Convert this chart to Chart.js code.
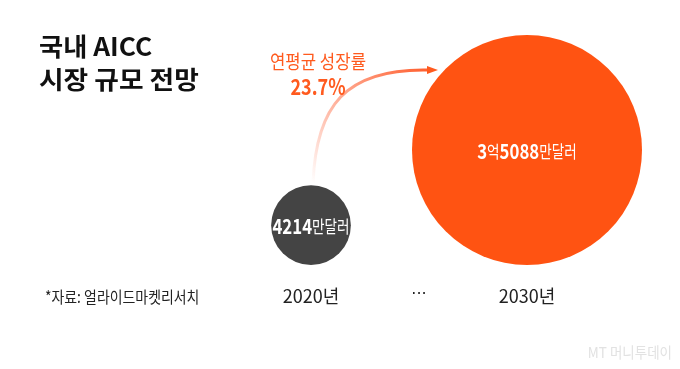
<!DOCTYPE html>
<html><head><meta charset="utf-8">
<script src="https://cdn.jsdelivr.net/npm/chart.js@4/dist/chart.umd.min.js"></script>
<style>html,body{margin:0;padding:0;background:#fff;overflow:hidden}#wrap{width:680px;height:369px;position:relative}</style>
</head><body><div id="wrap"><canvas id="c" width="680" height="369"></canvas></div>
<script>
// ---- data ----
const titleLines = ['국내 AICC', '시장 규모 전망'];
const tickLabels = ['2020년', '···', '2030년'];
const xPositions = [0, 2];
const marketValues = [4214, 35088]; // 만달러
const valueLabelParts = [
  [['4214', true], ['만달러', false]],
  [['3', true], ['억', false], ['5088', true], ['만달러', false]]
];
const growthLabel = '연평균 성장률';
const growthRate = '23.7%';
const sourceText = '*자료: 얼라이드마켓리서치';
const watermarkText = 'MT 머니투데이';

// ---- styles ----
const bubbleColors = ['#444444', '#FF5312'];
const orange = '#FF5A1E';
const FONT = '"Noto Sans CJK KR", "Noto Sans", sans-serif';
const MAX_R = 115;
const maxVal = Math.max(...marketValues);
const radii = marketValues.map(v => MAX_R * Math.sqrt(v / maxVal));

// keep the layout exactly as padded: bubbles are sized to fit inside the area
const BubbleCtl = Chart.registry.getController('bubble');
BubbleCtl.prototype.getMaxOverflow = function () { return 0; };

function drawScaledText(ctx, text, x, y, font, color, sx, align) {
  ctx.save();
  ctx.font = font;
  ctx.fillStyle = color;
  ctx.textBaseline = 'middle';
  const w = ctx.measureText(text).width * sx;
  let left = x;
  if (align === 'center') left = x - w / 2;
  else if (align === 'right') left = x - w;
  ctx.translate(left, y);
  ctx.scale(sx, 1);
  ctx.textAlign = 'left';
  ctx.fillText(text, 0, 0);
  ctx.restore();
}

function drawParts(ctx, parts, cx, cy, color, sx) {
  ctx.save();
  const fonts = parts.map(p => p[1] ? `bold 21px ${FONT}` : `17px ${FONT}`);
  let total = 0;
  const widths = parts.map((p, i) => { ctx.font = fonts[i]; const w = ctx.measureText(p[0]).width * sx; total += w; return w; });
  let x = cx - total / 2;
  parts.forEach((p, i) => {
    drawScaledText(ctx, p[0], x, cy + (p[1] ? 0 : 0.5), fonts[i], color, sx, 'left');
    x += widths[i];
  });
  ctx.restore();
}

const overlay = {
  id: 'overlay',
  afterDatasetsDraw(chart) {
    const ctx = chart.ctx;
    const meta = chart.getDatasetMeta(0);
    const pts = meta.data;
    pts.forEach((el, i) => {
      drawParts(ctx, valueLabelParts[i], el.x, el.y + 1, '#ffffff', 0.8);
    });
    // arrow from small bubble to large bubble
    const a = pts[0], b = pts[1];
    const p0 = {x: a.x + 2, y: a.y - radii[0] - 2};
    const p3 = {x: b.x - 92, y: b.y - 80};
    const c1 = {x: p0.x + 3, y: p0.y - 77};
    const c2 = {x: p0.x + 32, y: p3.y - 2};
    const g = ctx.createLinearGradient(p0.x, p0.y, p3.x, p3.y);
    g.addColorStop(0, 'rgba(255,100,60,0)');
    g.addColorStop(0.35, 'rgba(255,110,70,0.45)');
    g.addColorStop(1, 'rgba(255,90,40,1)');
    ctx.save();
    ctx.strokeStyle = g;
    ctx.lineWidth = 3;
    ctx.beginPath();
    ctx.moveTo(p0.x, p0.y);
    ctx.bezierCurveTo(c1.x, c1.y, c2.x, c2.y, p3.x - 6, p3.y);
    ctx.stroke();
    ctx.fillStyle = orange;
    ctx.beginPath();
    ctx.moveTo(p3.x + 3, p3.y);
    ctx.lineTo(p3.x - 8, p3.y - 4);
    ctx.lineTo(p3.x - 8, p3.y + 4);
    ctx.closePath();
    ctx.fill();
    ctx.restore();
    drawScaledText(ctx, growthLabel, 318, 62, `19px ${FONT}`, orange, 0.88, 'center');
    drawScaledText(ctx, growthRate, 318, 87, `bold 22px ${FONT}`, orange, 0.82, 'center');
  },
  afterDraw(chart) {
    const ctx = chart.ctx;
    drawScaledText(ctx, titleLines[0], 39, 46, `bold 25px ${FONT}`, '#111111', 1.05, 'left');
    drawScaledText(ctx, titleLines[1], 39, 79, `bold 25px ${FONT}`, '#111111', 1.07, 'left');
    drawScaledText(ctx, sourceText, 45, 297, `16px ${FONT}`, '#222222', 0.87, 'left');
    drawScaledText(ctx, watermarkText, 672, 352, `15px ${FONT}`, '#e2e2e2', 0.9, 'right');
  }
};

new Chart(document.getElementById('c'), {
  type: 'bubble',
  data: {
    datasets: [{
      data: marketValues.map((v, i) => ({x: xPositions[i], y: radii[i], r: radii[i]})),
      backgroundColor: bubbleColors,
      borderWidth: 0,
      hoverBorderWidth: 0,
      clip: false
    }]
  },
  options: {
    responsive: false,
    animation: false,
    events: [],
    layout: {padding: {left: 203, right: 45, top: 0, bottom: 0}},
    plugins: {legend: {display: false}, tooltip: {enabled: false}},
    scales: {
      x: {
        type: 'linear', min: -1, max: 3,
        afterFit(s) { s.height = 104; },
        grid: {display: false, drawTicks: false},
        border: {display: false},
        ticks: {
          stepSize: 1, padding: 20, maxRotation: 0, autoSkip: false,
          color: '#222222',
          font: ctx => (ctx.tick && ctx.tick.value === 1)
            ? {family: '"DejaVu Sans", sans-serif', size: 16}
            : {family: FONT, size: 18},
          callback: v => tickLabels[v] ?? ''
        }
      },
      y: {display: false, min: 0, max: 265}
    }
  },
  plugins: [overlay]
});
</script></body></html>
